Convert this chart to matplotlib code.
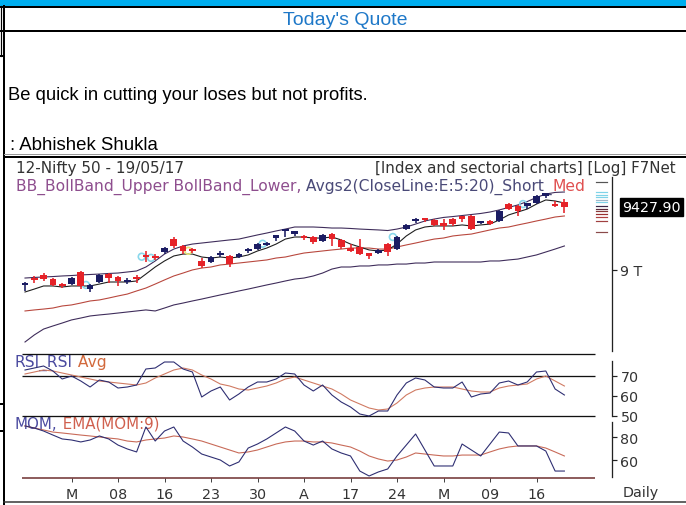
import matplotlib
matplotlib.use('Agg')
import matplotlib.pyplot as plt
from matplotlib.patches import Rectangle
from matplotlib.transforms import blended_transform_factory

# ---------------- data ----------------
bar_idx = list(range(59))
tick_pos = [5, 10, 15, 20, 25, 30, 35, 40, 45, 50, 55]
tick_lbl = ['M', '08', '16', '23', '30', 'A', '17', '24', 'M', '09', '16']

opens = [8902, 8940, 8966, 8938, 8899, 8904, 8986, 8870, 8918, 8972, 8952, 8923, 8947,
         9100, 9095, 9122, 9210, 9163, 9136, 9061, 9054, 9106, 9095, 9088, 9134, 9142, 9174,
         9224, 9265, 9251, 9226, 9224, 9197, 9244, 9204, 9142, 9156, 9108, 9115, 9176,
         9142, 9278, 9338, 9353, 9340, 9312, 9346, 9360, 9367, 9324, 9333, 9333, 9448,
         9435, 9442, 9455, 9510, 9445, 9462]
highs = [8918, 8959, 8979, 8945, 8911, 8952, 8993, 8904, 8972, 8979, 8959, 8945, 8966,
         9129, 9108, 9156, 9224, 9170, 9149, 9081, 9095, 9129, 9102, 9115, 9149, 9183, 9190,
         9238, 9274, 9260, 9238, 9231, 9245, 9251, 9210, 9176, 9210, 9110, 9142, 9183,
         9231, 9312, 9353, 9355, 9346, 9346, 9353, 9362, 9374, 9333, 9340, 9408, 9455,
         9442, 9450, 9510, 9518, 9469, 9482]
lows = [8857, 8911, 8925, 8891, 8877, 8898, 8870, 8850, 8911, 8911, 8891, 8904, 8911,
        9054, 9068, 9108, 9149, 9108, 9115, 9013, 9047, 9088, 9020, 9081, 9115, 9136, 9163,
        9197, 9224, 9231, 9204, 9176, 9190, 9163, 9142, 9122, 9102, 9074, 9108, 9095,
        9136, 9272, 9319, 9326, 9299, 9272, 9299, 9326, 9272, 9312, 9306, 9326, 9408,
        9367, 9414, 9448, 9489, 9428, 9387]
closes = [8906, 8937, 8938, 8898, 8896, 8945, 8891, 8898, 8966, 8945, 8925, 8927, 8944,
          9090, 9082, 9149, 9163, 9129, 9130, 9027, 9088, 9110, 9040, 9108, 9138, 9176, 9178,
          9231, 9272, 9258, 9222, 9190, 9238, 9210, 9156, 9136, 9108, 9102, 9136, 9122,
          9224, 9306, 9341, 9346, 9306, 9306, 9312, 9353, 9278, 9328, 9312, 9401, 9414,
          9401, 9448, 9503, 9516, 9440, 9427.9]

bb_upper = [8945, 8949, 8952, 8955, 8959, 8962, 8966, 8969, 8972, 8976, 8979, 8986, 8993,
            9020, 9061, 9108, 9142, 9163, 9176, 9183, 9190, 9197, 9204, 9210, 9224, 9238,
            9251, 9265, 9278, 9292, 9292, 9292, 9289, 9285, 9285, 9282, 9278, 9275, 9272,
            9268, 9278, 9292, 9312, 9333, 9346, 9357, 9363, 9370, 9377, 9384, 9394, 9408,
            9425, 9442, 9465, 9493, 9516, 9527, 9530]
ema_short = [8850, 8870, 8891, 8891, 8884, 8891, 8891, 8891, 8904, 8918, 8918, 8918, 8925,
             8972, 9020, 9061, 9095, 9108, 9108, 9088, 9081, 9088, 9081, 9088, 9102, 9129,
             9149, 9176, 9210, 9224, 9224, 9217, 9217, 9224, 9204, 9176, 9156, 9136, 9129,
             9136, 9176, 9231, 9272, 9292, 9299, 9299, 9299, 9306, 9299, 9306, 9312, 9340,
             9374, 9394, 9414, 9448, 9476, 9469, 9455]
ema_med = [8721, 8728, 8734, 8741, 8755, 8762, 8775, 8789, 8796, 8809, 8823, 8836, 8857,
           8877, 8904, 8932, 8959, 8979, 9000, 9013, 9020, 9034, 9040, 9047, 9054, 9061,
           9068, 9081, 9088, 9102, 9115, 9122, 9129, 9136, 9142, 9149, 9149, 9149, 9142,
           9142, 9156, 9170, 9183, 9197, 9210, 9217, 9231, 9238, 9244, 9258, 9272, 9285,
           9292, 9306, 9319, 9333, 9346, 9360, 9367]
bb_lower = [8510, 8558, 8598, 8619, 8639, 8660, 8673, 8687, 8694, 8700, 8707, 8714, 8721,
            8728, 8721, 8741, 8762, 8775, 8789, 8802, 8816, 8830, 8843, 8857, 8870, 8884,
            8898, 8911, 8925, 8938, 8945, 8959, 8979, 9006, 9020, 9020, 9027, 9027, 9034,
            9034, 9040, 9040, 9047, 9047, 9054, 9054, 9054, 9054, 9054, 9054, 9061, 9061,
            9068, 9074, 9088, 9102, 9122, 9142, 9163]

rsi = [73, 74, 75, 72.5, 68.5, 70, 67.5, 64.5, 68, 67, 64, 64.5, 65.5, 73.5, 74, 77, 77,
       73.5, 72, 59.5, 62.5, 64.5, 58, 61, 64.5, 67, 67, 68.5, 71.5, 71, 65.5, 62.5, 65.5,
       60.5, 57, 54.5, 51, 50, 52.5, 52.5, 60.5, 66.5, 69, 68, 64.5, 64, 64, 67, 59.5, 61,
       61.5, 66.5, 67.5, 65.5, 67, 72, 72.5, 63.5, 60.5]
rsi_avg = [71, 72, 73, 72.5, 71.5, 70.5, 69.5, 68.5, 67.5, 67, 66.5, 66, 65.5, 66.5, 69, 71,
           73, 74, 73, 70.5, 68.5, 66, 65, 63.5, 63, 64, 65, 66.5, 68.5, 69.5, 68, 66.5, 65,
           63.5, 61, 58, 56, 54, 53, 53.5, 56.5, 60.5, 63, 64, 64.5, 64.5, 64.5, 63.5, 62.5,
           62, 62, 64, 65, 65.5, 66, 68.5, 70, 67.5, 65]

mom = [89.6, 87.8, 85.2, 81.7, 78.3, 77.4, 75.7, 77.4, 80.9, 78.3, 73.0, 69.6, 67.0,
       88.7, 76.5, 85.2, 88.7, 76.5, 71.3, 65.2, 62.6, 60.0, 54.8, 58.3, 70.4, 73.9, 78.3,
       83.5, 88.7, 85.2, 76.5, 73.0, 76.5, 69.6, 66.1, 63.5, 50.4, 46.1, 49.6, 52.2,
       63.5, 73.0, 82.6, 68.7, 54.8, 54.8, 54.8, 73.9, 68.7, 63.5, 73.9, 84.3, 83.5, 72.2,
       72.2, 72.2, 67.8, 50.4, 50.4]
mom_ema = [89.6, 87.8, 86.1, 84.3, 83.5, 82.6, 81.7, 80.9, 80.0, 79.1, 78.3, 76.5, 75.7,
           77.4, 78.3, 79.1, 80.9, 80.0, 78.3, 76.5, 73.9, 71.3, 68.7, 66.1, 67.0, 68.7, 71.3,
           73.9, 75.7, 76.5, 76.5, 75.7, 75.7, 74.8, 73.0, 71.3, 67.8, 63.5, 60.9, 59.1,
           60.0, 62.6, 66.1, 65.2, 64.3, 63.5, 63.5, 64.3, 64.3, 64.3, 67.0, 69.6, 71.3, 72.2,
           72.2, 72.2, 70.4, 67.0, 63.5]

signal_idx = [7, 13, 14, 18, 26, 40, 54]
signal_col = ['#8ad8ec', '#8ad8ec', '#8ad8ec', '#e6e27a', '#8ad8ec', '#8ad8ec', '#8ad8ec']

last_price = 9427.90

# ---------------- figure ----------------
W, H = 686, 506
fig = plt.figure(figsize=(W / 100, H / 100), dpi=100)
fig.patch.set_facecolor('white')
PX = 0.72  # points per pixel

bg = fig.add_axes([0, 0, 1, 1])
bg.set_xlim(0, W)
bg.set_ylim(H, 0)
bg.axis('off')

# page frame
bg.add_patch(Rectangle((0, 0), W, 6.5, color='#00AEEF', lw=0))
bg.plot([0, W], [7.5, 7.5], color='black', lw=2 * PX)
bg.plot([0, W], [32, 32], color='black', lw=2 * PX)
bg.plot([4, 4], [7, H], color='black', lw=2 * PX)
bg.plot([0.6, 0.6], [7, 57], color='black', lw=1.2 * PX)
for yy in (57, 405, 432):
    bg.plot([0, 4], [yy, yy], color='black', lw=2 * PX)
bg.plot([4, W], [154.5, 154.5], color='#9a9a9a', lw=1 * PX)
bg.plot([4, W], [157.5, 157.5], color='black', lw=2 * PX)
bg.plot([4, W], [503, 503], color='#333333', lw=1.5 * PX)

# quote texts
bg.text(345, 25, "Today's Quote", ha='center', va='baseline', fontsize=14,
        color='#1E78C8', family='Liberation Sans')
bg.text(8, 99.5, "Be quick in cutting your loses but not profits.", ha='left',
        va='baseline', fontsize=13.2, color='black', family='Liberation Sans')
bg.text(10, 150, ": Abhishek Shukla", ha='left', va='baseline', fontsize=13.4,
        color='black', family='Liberation Sans')

renderer = fig.canvas.get_renderer()


def seq_text(x, y, parts, **kw):
    for s, c in parts:
        t = bg.text(x, y, s, color=c, va='baseline', ha='left', **kw)
        x += t.get_window_extent(renderer=renderer).width
    return x


CF = 'DejaVu Sans'
bg.text(16, 173, '12-Nifty 50 - 19/05/17', fontsize=11, color='#333333', family=CF,
        va='baseline')
bg.text(676, 173, '[Index and sectorial charts] [Log] F7Net', fontsize=10.8,
        color='#333333', family=CF, va='baseline', ha='right')
seq_text(16, 191, [('BB_BollBand_Upper BollBand_Lower,', '#8E4E8E'),
                   (' Avgs2(CloseLine:E:5:20)_Short_', '#4A4A78'),
                   ('Med', '#E05050')], fontsize=11.2, family=CF)
seq_text(15, 367, [('RSI_RSI', '#4B4BA0'), (' Avg', '#D2693C')], fontsize=11.2, family=CF)
seq_text(15, 429, [('MOM,', '#4B4BA0'), (' EMA(MOM:9)', '#D0604E')], fontsize=10.8, family=CF)
bg.text(623, 497, 'Daily', fontsize=10.3, color='#333333', family=CF, va='baseline')

# small level swatches right of the price panel
for yy, cc in [(183, '#555555'), (193, '#7fd3e8'), (195.5, '#7fd3e8'), (198, '#7fd3e8'),
               (200.5, '#9fb8c8'), (203, '#7fd3e8'), (207, '#3a2a4a'), (209.5, '#5a2a3a'),
               (212, '#8a3a3a'), (215, '#9a3030'), (218, '#b04040'), (221.5, '#a04040'),
               (233, '#8a4a4a')]:
    bg.plot([596, 607], [yy, yy], color=cc, lw=1.2 * PX)

# ---------------- data axes ----------------
XL = (-10 / 9.3, 575 / 9.3)
axp = fig.add_axes([15 / W, 1 - 355 / H, 585 / W, 195 / H])
axr = fig.add_axes([15 / W, 1 - 417 / H, 585 / W, 62 / H])
axm = fig.add_axes([15 / W, 1 - 479 / H, 585 / W, 62 / H])
axp.set_ylim(8428.4, 9754.4)
axr.set_ylim(50, 81)
axm.set_ylim(44.35, 98.26)

for ax in (axp, axr, axm):
    ax.set_xlim(*XL)
    ax.patch.set_alpha(0)
    for s in ('top', 'left', 'bottom'):
        ax.spines[s].set_visible(False)
    ax.spines['right'].set_position(('axes', 597 / 585))
    ax.spines['right'].set_linewidth(1.3 * PX)
    ax.spines['right'].set_color('#222222')
    ax.yaxis.tick_right()
    ax.tick_params(axis='y', direction='out', length=5 * PX, width=1.2 * PX,
                   colors='#222222', labelsize=10.3, pad=2.5, labelcolor='#333333')
    ax.set_xticks([])

axp.spines['right'].set_bounds(8449, 9632)
axr.spines['right'].set_bounds(50, 77.5)
axm.spines['right'].set_bounds(45.2, 93.0)
axp.set_yticks([9000])
axp.set_yticklabels(['9 T'], family=CF)
axr.set_yticks([50, 60, 70])
axr.set_yticklabels(['50', '60', '70'], family=CF)
axm.set_yticks([60, 80])
axm.set_yticklabels(['60', '80'], family=CF)

# price panel
RED, NAVY = '#E52228', '#1B1C63'
axp.plot(bar_idx, bb_upper, color='#3E2C5A', lw=1.1 * PX)
axp.plot(bar_idx, bb_lower, color='#3E2C5A', lw=1.1 * PX)
axp.plot(bar_idx, ema_med, color='#B8473D', lw=1.1 * PX)
axp.plot(bar_idx, ema_short, color='#1e1e1e', lw=1.1 * PX)
cols = [NAVY if c >= o else RED for o, c in zip(opens, closes)]
axp.vlines(bar_idx, lows, highs, colors=cols, lw=1.6 * PX, zorder=3)
bodies, bottoms = [], []
for o, c in zip(opens, closes):
    lo, hi = min(o, c), max(o, c)
    if hi - lo < 14:
        mid = (hi + lo) / 2
        lo, hi = mid - 7, mid + 7
    bottoms.append(lo)
    bodies.append(hi - lo)
axp.bar(bar_idx, bodies, bottom=bottoms, width=0.72, color=cols, lw=0, zorder=4)
axp.scatter([i - 0.45 for i in signal_idx], [closes[i] for i in signal_idx],
            s=24, facecolors='none', edgecolors=signal_col, linewidths=1.2, zorder=2)
tr = blended_transform_factory(axp.transAxes, axp.transData)
axp.text(607 / 585, last_price, f'{last_price:.2f}', transform=tr, color='white',
         fontsize=10.3, family=CF, va='center', ha='left',
         bbox=dict(boxstyle='square,pad=0.15', facecolor='black', edgecolor='black'))

# RSI panel
LX0, LX1 = -0.32, 61.3
axr.hlines([81, 70, 50], LX0, LX1, colors='#111111', lw=1.3 * PX, clip_on=False)
axr.plot(bar_idx, rsi_avg, color='#D07A62', lw=1.1 * PX, clip_on=False)
axr.plot(bar_idx, rsi, color='#2E2E72', lw=1.1 * PX, clip_on=False)

# MOM panel
axm.hlines([44.35], LX0, LX1, colors='#6B2A2A', lw=1.5 * PX, clip_on=False)
axm.plot(bar_idx, mom_ema, color='#C86A58', lw=1.1 * PX, clip_on=False)
axm.plot(bar_idx, mom, color='#2E2E72', lw=1.1 * PX, clip_on=False)
axm.set_xticks(tick_pos)
axm.set_xticklabels(tick_lbl, family=CF)
axm.tick_params(axis='x', direction='out', length=4 * PX, width=1 * PX, colors='#444444',
                labelsize=10.3, pad=3.5, labelcolor='#333333')

fig.savefig('out.png', dpi=100, facecolor='white')
